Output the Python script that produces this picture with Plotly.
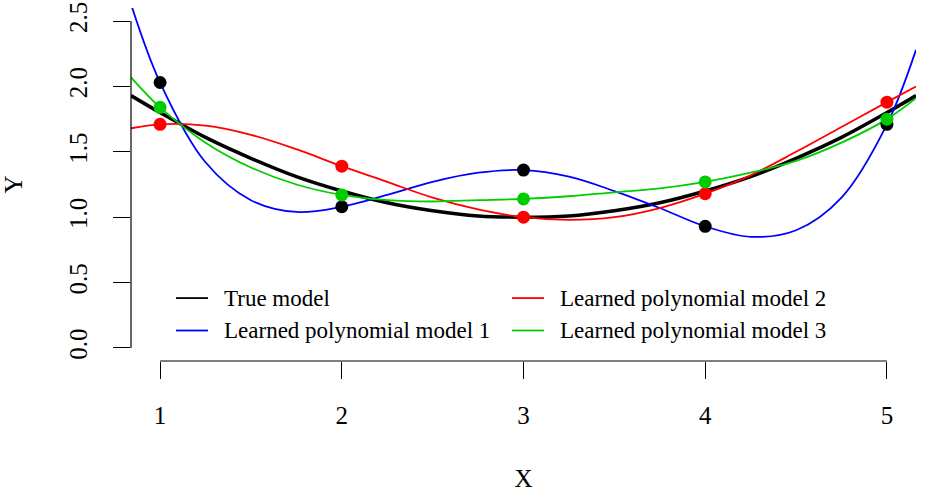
import plotly.graph_objects as go

# ---- data ----
data_x = [1, 2, 3, 4, 5]
data_true_pts = [2.03, 1.08, 1.36, 0.93, 1.71]
data_red_pts = [1.71, 1.39, 1.00, 1.18, 1.88]
data_green_pts = [1.84, 1.17, 1.14, 1.27, 1.75]

curve_x = [0.84, 1.0, 1.25, 1.5, 1.75, 2.0, 2.25, 2.5, 2.75, 3.0,
           3.25, 3.5, 3.75, 4.0, 4.25, 4.5, 4.75, 5.0, 5.16]
true_model = [1.93, 1.80, 1.61, 1.45, 1.31, 1.20, 1.11, 1.05, 1.01, 1.00,
              1.01, 1.05, 1.11, 1.20, 1.31, 1.45, 1.61, 1.80, 1.93]
poly_model_1 = [2.63, 2.03, 1.42, 1.13, 1.04, 1.08, 1.17, 1.27, 1.34, 1.36,
                1.31, 1.20, 1.07, 0.93, 0.85, 0.90, 1.15, 1.71, 2.28]
poly_model_2 = [1.68, 1.71, 1.70, 1.63, 1.52, 1.39, 1.27, 1.15, 1.06, 1.00,
                0.98, 1.00, 1.07, 1.18, 1.32, 1.50, 1.69, 1.88, 2.00]
poly_model_3 = [2.07, 1.84, 1.57, 1.38, 1.25, 1.17, 1.13, 1.12, 1.13, 1.14,
                1.16, 1.19, 1.22, 1.27, 1.34, 1.43, 1.57, 1.75, 1.91]

legend_labels = ["True model", "Learned polynomial model 1",
                 "Learned polynomial model 2", "Learned polynomial model 3"]
legend_colors = ["#000000", "#0000FF", "#FF0000", "#00CD00"]

y_ticks = [0.0, 0.5, 1.0, 1.5, 2.0, 2.5]
x_ticks = [1, 2, 3, 4, 5]

FONT = "Liberation Serif"
FS = 23
TFS = 25

fig = go.Figure()
fig.add_trace(go.Scatter(x=curve_x, y=true_model, mode="lines", name=legend_labels[0],
                         line=dict(color=legend_colors[0], width=3.5, shape="spline")))
fig.add_trace(go.Scatter(x=curve_x, y=poly_model_1, mode="lines", name=legend_labels[1],
                         line=dict(color=legend_colors[1], width=1.8, shape="spline")))
fig.add_trace(go.Scatter(x=curve_x, y=poly_model_2, mode="lines", name=legend_labels[2],
                         line=dict(color=legend_colors[2], width=1.8, shape="spline")))
fig.add_trace(go.Scatter(x=curve_x, y=poly_model_3, mode="lines", name=legend_labels[3],
                         line=dict(color=legend_colors[3], width=1.8, shape="spline")))
fig.add_trace(go.Scatter(x=data_x, y=data_true_pts, mode="markers",
                         marker=dict(color="#000000", size=13)))
fig.add_trace(go.Scatter(x=data_x, y=data_red_pts, mode="markers",
                         marker=dict(color="#FF0000", size=13)))
fig.add_trace(go.Scatter(x=data_x, y=data_green_pts, mode="markers",
                         marker=dict(color="#00CD00", size=13)))

W, H = 926, 496
ML, MR, MT, MB = 131, 10, 2, 135
pw, ph = W - ML - MR, H - MT - MB


def fx(px):
    return (px - ML) / pw


def fy(py):
    return (H - MB - py) / ph


shapes = [
    dict(type="line", xref="paper", yref="y", x0=0, x1=0, y0=y_ticks[0], y1=y_ticks[-1],
         line=dict(color="black", width=1.2)),
    dict(type="line", xref="x", yref="paper", x0=x_ticks[0], x1=x_ticks[-1], y0=0, y1=0,
         line=dict(color="black", width=1.2)),
]
annotations = []
leg_pos = [(176, 297), (176, 330), (512, 297), (512, 330)]
for (lx, ly), lab, col in zip(leg_pos, legend_labels, legend_colors):
    shapes.append(dict(type="line", xref="paper", yref="paper",
                       x0=fx(lx), x1=fx(lx + 32), y0=fy(ly), y1=fy(ly),
                       line=dict(color=col, width=1.8)))
    annotations.append(dict(xref="paper", yref="paper", x=fx(lx + 46), y=fy(ly),
                            xanchor="left", yanchor="middle", showarrow=False, text=lab,
                            font=dict(family=FONT, size=FS, color="black")))

fig.update_layout(
    width=W, height=H,
    margin=dict(l=ML, r=MR, t=MT, b=MB),
    paper_bgcolor="white", plot_bgcolor="white",
    showlegend=False,
    font=dict(family=FONT, size=FS, color="black"),
    shapes=shapes, annotations=annotations,
    xaxis=dict(range=[0.84, 5.16], tickvals=x_ticks, ticks="outside", ticklen=17,
               tickwidth=1.2, tickcolor="black", showgrid=False, zeroline=False,
               showline=False, ticklabelstandoff=15, ticklabeloverflow="allow",
               tickfont=dict(family=FONT, size=TFS, color="black"),
               title=dict(text="X", standoff=41, font=dict(family=FONT, size=TFS))),
    yaxis=dict(range=[-0.1, 2.6], tickvals=y_ticks, ticktext=[f"{v:.1f}" for v in y_ticks],
               ticks="outside", ticklen=17, tickwidth=1.2, tickcolor="black",
               tickangle=-90, showgrid=False, zeroline=False, showline=False,
               ticklabelstandoff=16, ticklabeloverflow="allow",
               tickfont=dict(family=FONT, size=TFS, color="black"),
               title=dict(text="Y", standoff=45, font=dict(family=FONT, size=TFS))),
)

fig.write_html("out.html")
